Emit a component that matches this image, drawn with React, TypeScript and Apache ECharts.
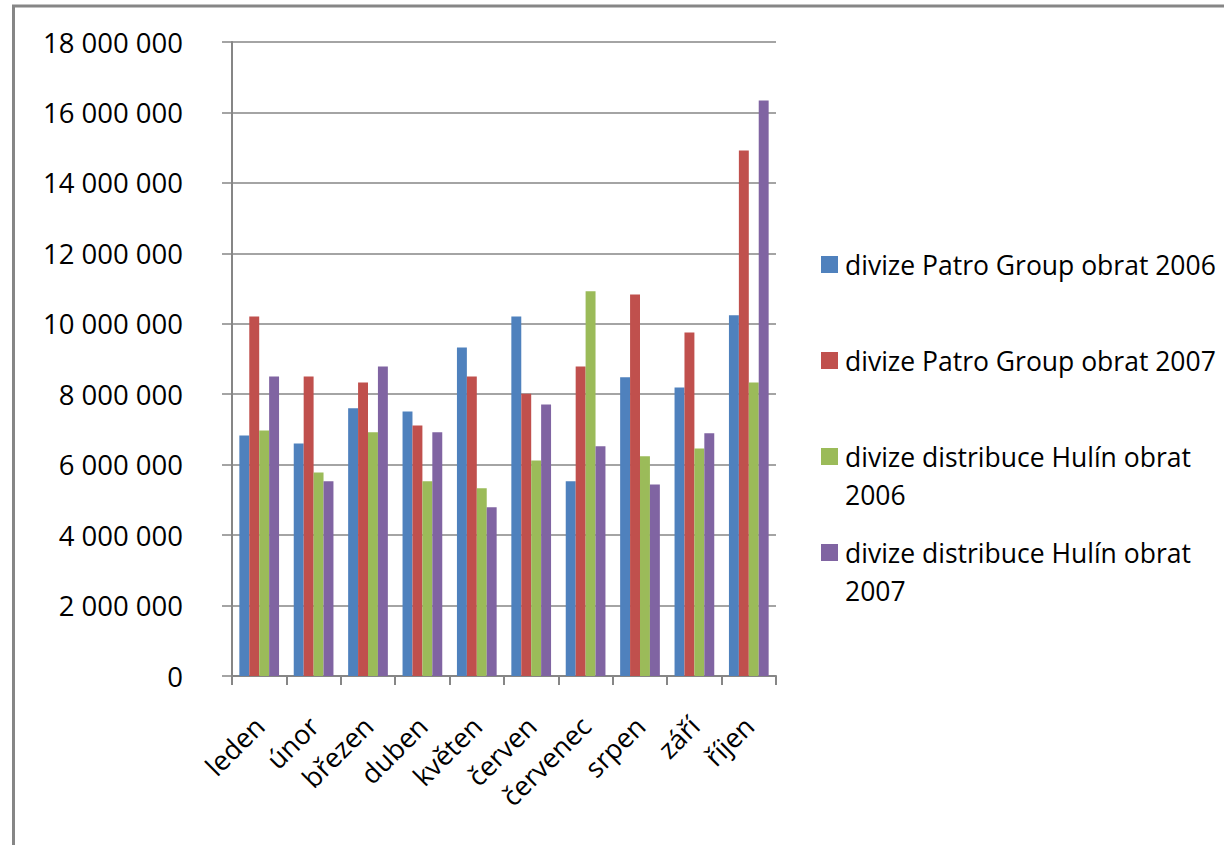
import React, { useEffect, useRef } from "react";
import * as echarts from "echarts";

const months = ["leden", "únor", "březen", "duben", "květen", "červen", "červenec", "srpen", "září", "říjen"];
const seriesNames = [
  "divize Patro Group obrat 2006",
  "divize Patro Group obrat 2007",
  "divize distribuce Hulín obrat 2006",
  "divize distribuce Hulín obrat 2007",
];
const patro2006 = [6830000, 6600000, 7600000, 7510000, 9330000, 10210000, 5530000, 8480000, 8190000, 10240000];
const patro2007 = [10210000, 8500000, 8330000, 7110000, 8500000, 8010000, 8790000, 10830000, 9750000, 14920000];
const hulin2006 = [6970000, 5780000, 6920000, 5530000, 5330000, 6120000, 10920000, 6240000, 6460000, 8330000];
const hulin2007 = [8500000, 5530000, 8790000, 6920000, 4790000, 7710000, 6520000, 5440000, 6890000, 16340000];
const seriesValues = [patro2006, patro2007, hulin2006, hulin2007];
const colors = ["#4F81BD", "#C0504D", "#9BBB59", "#8064A2"];
const legendLabels = [
  "divize Patro Group obrat 2006",
  "divize Patro Group obrat 2007",
  "\ndivize distribuce Hulín obrat\n2006",
  "\ndivize distribuce Hulín obrat\n2007",
];

const FONT = "Open Sans";
const GRAY = "#868686";

export default function App() {
  const ref = useRef<HTMLDivElement>(null);
  useEffect(() => {
    document.body.style.margin = "0";
    const chart = echarts.init(ref.current!, null, { renderer: "svg" });
    chart.setOption({
      animation: false,
      backgroundColor: "#ffffff",
      textStyle: { fontFamily: FONT },
      grid: { left: 232, right: 448, top: 42, bottom: 169, containLabel: false },
      legend: {
        orient: "vertical",
        left: 821,
        top: 207.5,
        padding: 0,
        itemGap: -18,
        itemWidth: 17,
        itemHeight: 17,
        icon: "rect",
        selectedMode: false,
        textStyle: { fontFamily: FONT, fontSize: 26.5, color: "#000", lineHeight: 38 },
        data: seriesNames.map((n, i) => ({
          name: n,
          itemStyle: { color: colors[i] },
          textStyle: { padding: legendLabels[i].startsWith("\n") ? [0, 0, 0, 2] : [38, 0, 38, 2] },
        })),
        formatter: (name: string) => legendLabels[seriesNames.indexOf(name)],
      },
      xAxis: {
        type: "category",
        data: months,
        axisLine: { lineStyle: { color: GRAY, width: 2 } },
        axisTick: { show: true, length: 9, lineStyle: { color: GRAY, width: 2 } },
        axisLabel: {
          rotate: 45,
          margin: 45,
          padding: [17, 0, 0, 0],
          fontFamily: FONT,
          fontSize: 27,
          color: "#000",
          interval: 0,
        },
        splitLine: { show: false },
      },
      yAxis: {
        type: "value",
        min: 0,
        max: 18000000,
        interval: 2000000,
        axisLine: { show: true, lineStyle: { color: GRAY, width: 2 } },
        axisTick: { show: true, length: 10, lineStyle: { color: GRAY, width: 1.5 } },
        splitLine: { show: true, lineStyle: { color: GRAY, width: 1.5 } },
        axisLabel: {
          margin: 49,
          fontFamily: FONT,
          fontSize: 27.5,
          color: "#000",
          formatter: (v: number) => String(Math.round(v)).replace(/\B(?=(\d{3})+(?!\d))/g, " "),
        },
      },
      series: seriesNames.map((n, i) => ({
        name: n,
        type: "bar",
        data: seriesValues[i],
        barGap: "0%",
        barCategoryGap: "27%",
        itemStyle: { color: colors[i] },
      })),
      graphic: [
        {
          type: "rect",
          shape: { x: 13.5, y: 6, width: 1400, height: 1000 },
          style: { fill: "none", stroke: GRAY, lineWidth: 3 },
          silent: true,
        },
      ],
    });
    return () => chart.dispose();
  }, []);
  return <div ref={ref} style={{ width: 1224, height: 845 }} />;
}
